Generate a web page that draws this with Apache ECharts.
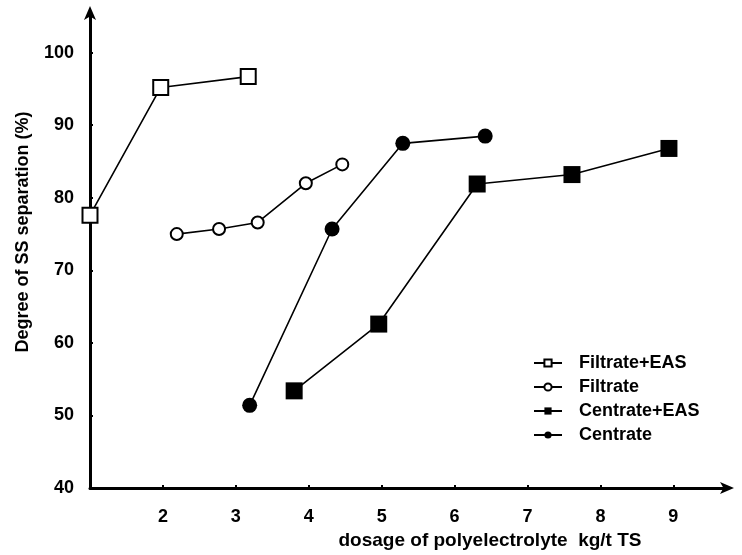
<!DOCTYPE html>
<html>
<head>
<meta charset="utf-8">
<script src="https://cdn.jsdelivr.net/npm/echarts@6/dist/echarts.min.js"></script>
<style>
  html, body { margin: 0; padding: 0; background: #ffffff; }
  #chart { width: 742px; height: 555px; }
</style>
</head>
<body>
<div id="chart"></div>
<script>
// ---- data ----
const seriesNames = ['Filtrate+EAS', 'Filtrate', 'Centrate+EAS', 'Centrate'];

const filtrateEasX = [1.0, 1.97, 3.17];
const filtrateEasY = [77.6, 95.2, 96.7];

const filtrateX = [2.19, 2.77, 3.30, 3.96, 4.46];
const filtrateY = [75.0, 75.7, 76.6, 82.0, 84.6];

const centrateEasX = [3.80, 4.96, 6.31, 7.61, 8.94];
const centrateEasY = [53.4, 62.6, 81.9, 83.2, 86.8];

const centrateX = [3.19, 4.32, 5.29, 6.42];
const centrateY = [51.4, 75.7, 87.5, 88.5];

const xTickLabels = ['2', '3', '4', '5', '6', '7', '8', '9'];
const yTickLabels = ['40', '50', '60', '70', '80', '90', '100'];

const xAxisName = 'dosage of polyelectrolyte  kg/t TS';
const yAxisName = 'Degree of SS separation (%)';

function pairs(xs, ys) { return xs.map((x, i) => [x, ys[i]]); }

const FONT = '"Liberation Sans", Arial, sans-serif';
const chart = echarts.init(document.getElementById('chart'), null, { renderer: 'canvas' });

const lineStyle = { color: '#000', width: 1.6 };

chart.setOption({
  backgroundColor: '#ffffff',
  animation: false,
  grid: { left: 90, right: 14, top: 12, bottom: 65, containLabel: false },
  legend: {
    orient: 'vertical',
    left: 528,
    top: 349,
    itemWidth: 28,
    itemHeight: 9,
    itemGap: 6,
    data: seriesNames,
    textStyle: { fontFamily: FONT, fontSize: 18, fontWeight: 'bold', color: '#000', padding: [0, 0, 0, 12] }
  },
  xAxis: {
    type: 'value',
    min: 1,
    max: 9.75,
    interval: 1,
    name: xAxisName,
    nameLocation: 'middle',
    nameGap: 42,
    nameTextStyle: { fontFamily: FONT, fontSize: 19, fontWeight: 'bold', color: '#000', padding: [0, 0, 0, 162] },
    axisLine: { show: true, lineStyle: { color: '#000', width: 3 }, symbol: ['none', 'arrow'], symbolSize: [9, 14], symbolOffset: [0, 6] },
    axisTick: { show: true, inside: true, length: 3, lineStyle: { color: '#000', width: 2 } },
    splitLine: { show: false },
    axisLabel: {
      showMinLabel: false,
      showMaxLabel: false,
      margin: 20,
      fontFamily: FONT, fontSize: 18, fontWeight: 'bold', color: '#000',
      formatter: v => xTickLabels.includes(String(v)) ? String(v) : ''
    }
  },
  yAxis: {
    type: 'value',
    min: 40,
    max: 105.6,
    interval: 10,
    name: yAxisName,
    nameLocation: 'middle',
    nameGap: 58,
    nameRotate: 90,
    nameTextStyle: { fontFamily: FONT, fontSize: 18, fontWeight: 'bold', color: '#000', padding: [0, 0, 0, 36] },
    axisLine: { show: true, lineStyle: { color: '#000', width: 3 }, symbol: ['none', 'arrow'], symbolSize: [9, 14], symbolOffset: [0, 6] },
    axisTick: { show: true, inside: true, length: 3, lineStyle: { color: '#000', width: 2 } },
    splitLine: { show: false },
    axisLabel: {
      showMaxLabel: false,
      margin: 16,
      fontFamily: FONT, fontSize: 18, fontWeight: 'bold', color: '#000',
      formatter: v => yTickLabels.includes(String(v)) ? String(v) : ''
    }
  },
  series: [
    {
      name: seriesNames[0], type: 'line', data: pairs(filtrateEasX, filtrateEasY),
      symbol: 'rect', symbolSize: 15, lineStyle: lineStyle,
      itemStyle: { color: '#fff', borderColor: '#000', borderWidth: 2 }, z: 3
    },
    {
      name: seriesNames[1], type: 'line', data: pairs(filtrateX, filtrateY),
      symbol: 'circle', symbolSize: 12, lineStyle: lineStyle,
      itemStyle: { color: '#fff', borderColor: '#000', borderWidth: 2 }, z: 3
    },
    {
      name: seriesNames[2], type: 'line', data: pairs(centrateEasX, centrateEasY),
      symbol: 'rect', symbolSize: 17, lineStyle: lineStyle,
      itemStyle: { color: '#000', borderColor: '#000', borderWidth: 0 }, z: 3
    },
    {
      name: seriesNames[3], type: 'line', data: pairs(centrateX, centrateY),
      symbol: 'circle', symbolSize: 15, lineStyle: lineStyle,
      itemStyle: { color: '#000', borderColor: '#000', borderWidth: 0 }, z: 3
    }
  ]
});
</script>
</body>
</html>
